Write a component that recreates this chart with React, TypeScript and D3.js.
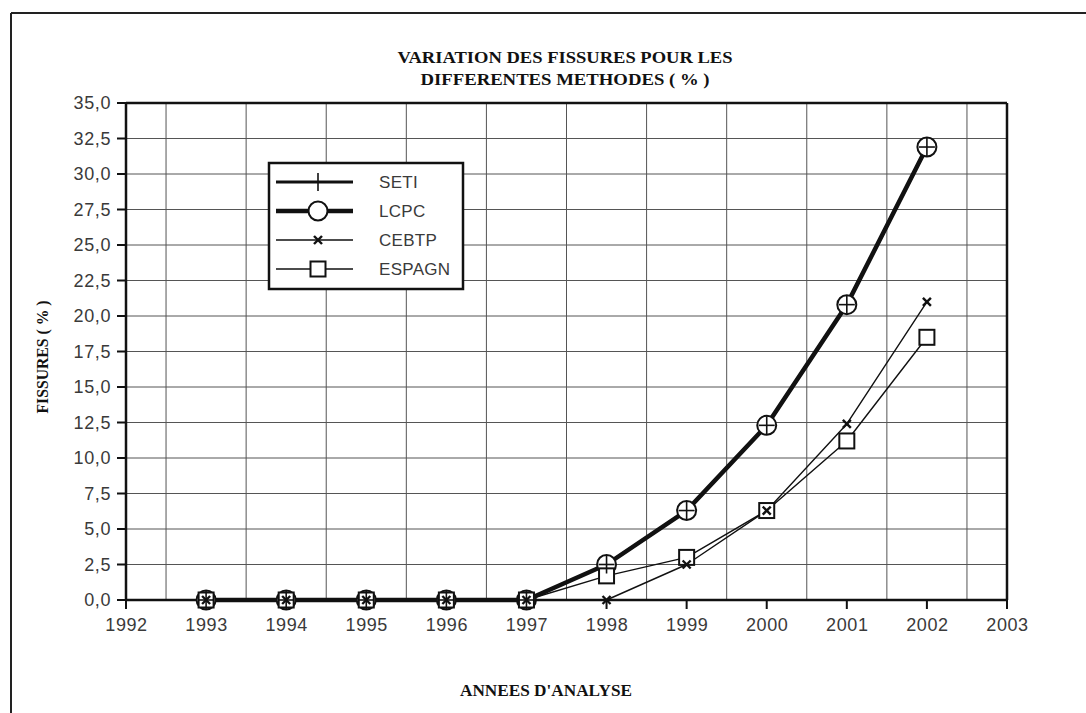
import React from "react";
import * as d3 from "d3";

const years = [1993, 1994, 1995, 1996, 1997, 1998, 1999, 2000, 2001, 2002];
const seti = [0, 0, 0, 0, 0, 2.5, 6.3, 12.3, 20.8, 31.9];
const lcpc = [0, 0, 0, 0, 0, 2.5, 6.3, 12.3, 20.8, 31.9];
const cebtp = [0, 0, 0, 0, 0, 0, 2.5, 6.3, 12.4, 21.0];
const espagn = [0, 0, 0, 0, 0, 1.7, 3.0, 6.3, 11.2, 18.5];
const seriesNames = ["SETI", "LCPC", "CEBTP", "ESPAGN"];
const xTicks = d3.range(1992, 2004);
const yTicks = d3.range(0, 35.01, 2.5);
const titleLines = ["VARIATION DES FISSURES POUR LES", "DIFFERENTES METHODES ( % )"];
const xTitle = "ANNEES D'ANALYSE";
const yTitle = "FISSURES ( % )";

const W = 1086, H = 713;
const L = 126, R = 1007, T = 103, B = 600;

type Kind = "plus" | "circle" | "x" | "square";
const styles: { kind: Kind; width: number }[] = [
  { kind: "plus", width: 3 },
  { kind: "circle", width: 4.5 },
  { kind: "x", width: 1.4 },
  { kind: "square", width: 1.4 },
];

function Marker({ kind, x, y }: { kind: Kind; x: number; y: number }) {
  if (kind === "circle")
    return <circle cx={x} cy={y} r={9.5} fill="#fff" stroke="#111" strokeWidth={2} />;
  if (kind === "square")
    return <rect x={x - 7.5} y={y - 7.5} width={15} height={15} fill="#fff" stroke="#111" strokeWidth={2} />;
  if (kind === "plus")
    return (
      <g stroke="#111" strokeWidth={1.6}>
        <line x1={x - 8} x2={x + 8} y1={y} y2={y} />
        <line x1={x} x2={x} y1={y - 9} y2={y + 9} />
      </g>
    );
  return (
    <g stroke="#111" strokeWidth={2.4}>
      <line x1={x - 4} x2={x + 4} y1={y - 4} y2={y + 4} />
      <line x1={x - 4} x2={x + 4} y1={y + 4} y2={y - 4} />
    </g>
  );
}

export default function App() {
  const x = d3.scaleLinear().domain([1992, 2003]).range([L, R]);
  const y = d3.scaleLinear().domain([0, 35]).range([B, T]);
  const data = [seti, lcpc, cebtp, espagn];
  const line = d3
    .line<number>()
    .x((_, i) => x(years[i]))
    .y((d) => y(d));
  const fmt = (v: number) => v.toFixed(1).replace(".", ",");
  const vGrid = d3.range(1992.5, 2003, 1);
  const markerOrder = [1, 3, 0, 2];
  const sans = "'Liberation Sans', Arial, sans-serif";
  const serif = "'Liberation Serif', 'Times New Roman', serif";
  const legY = [182, 211, 240, 269];
  const titleW = [335, 289];

  return (
    <svg width={W} height={H} style={{ position: "absolute", left: 0, top: 0, background: "#fff" }}>
      <rect x={0} y={0} width={W} height={H} fill="#fff" />
      {/* outer frame */}
      <line x1={11} x2={W} y1={13} y2={13} stroke="#222" strokeWidth={2} />
      <line x1={11} x2={11} y1={13} y2={H} stroke="#222" strokeWidth={2} />

      {/* title */}
      {titleLines.map((t, i) => (
        <text key={i} x={565} y={63 + i * 22} textAnchor="middle" fontFamily={serif} fontWeight="bold" fontSize={17}
          textLength={titleW[i]} lengthAdjust="spacingAndGlyphs" fill="#111">
          {t}
        </text>
      ))}

      {/* grid */}
      {yTicks.filter((v) => v > 0 && v < 35).map((v) => (
        <line key={"h" + v} x1={L} x2={R} y1={y(v)} y2={y(v)} stroke="#555" strokeWidth={1} />
      ))}
      {vGrid.map((v) => (
        <line key={"v" + v} x1={x(v)} x2={x(v)} y1={T} y2={B} stroke="#555" strokeWidth={1} />
      ))}

      {/* plot border */}
      <line x1={L} x2={R} y1={T} y2={T} stroke="#111" strokeWidth={2.5} />
      <line x1={R} x2={R} y1={T} y2={B} stroke="#111" strokeWidth={2.5} />
      <line x1={L} x2={L} y1={T} y2={B} stroke="#111" strokeWidth={2.5} />
      <line x1={L} x2={R} y1={B} y2={B} stroke="#111" strokeWidth={2.5} />

      {/* y ticks */}
      {yTicks.map((v) => (
        <g key={"yt" + v}>
          <line x1={L - 9} x2={L} y1={y(v)} y2={y(v)} stroke="#111" strokeWidth={2} />
          <text x={111} y={y(v)} dy="0.36em" textAnchor="end" fontFamily={sans} fontSize={18} letterSpacing={0.6} fill="#3a3a3a">
            {fmt(v)}
          </text>
        </g>
      ))}
      {/* x ticks */}
      {xTicks.map((v) => (
        <g key={"xt" + v}>
          <line x1={x(v)} x2={x(v)} y1={B} y2={B + 9} stroke="#111" strokeWidth={2} />
          <text x={x(v) + 0.5} y={631} textAnchor="middle" fontFamily={sans} fontSize={18} letterSpacing={0.6} fill="#3a3a3a">
            {v}
          </text>
        </g>
      ))}

      {/* axis titles */}
      <text x={546} y={696} textAnchor="middle" fontFamily={serif} fontWeight="bold" fontSize={16}
        textLength={172} lengthAdjust="spacingAndGlyphs" fill="#111">
        {xTitle}
      </text>
      <text transform={`translate(48,357) rotate(-90)`} textAnchor="middle" fontFamily={serif} fontWeight="bold" fontSize={16}
        textLength={113} lengthAdjust="spacingAndGlyphs" fill="#111">
        {yTitle}
      </text>

      {/* series lines */}
      {data.map((d, i) => (
        <path key={"l" + i} d={line(d) || ""} fill="none" stroke="#111" strokeWidth={styles[i].width} strokeLinejoin="round" />
      ))}
      {/* markers */}
      {markerOrder.map((si) =>
        data[si].map((v, j) => <Marker key={si + "-" + j} kind={styles[si].kind} x={x(years[j])} y={y(v)} />)
      )}

      {/* legend */}
      <rect x={269} y={163} width={194} height={126} fill="#fff" stroke="#111" strokeWidth={2.5} />
      {seriesNames.map((n, i) => (
        <g key={"lg" + n}>
          <line x1={276} x2={353} y1={legY[i]} y2={legY[i]} stroke="#111" strokeWidth={styles[i].width} />
          <Marker kind={styles[i].kind} x={318} y={legY[i]} />
          <text x={379} y={legY[i]} dy="0.36em" fontFamily={sans} fontSize={17} letterSpacing={0.3} fill="#3a3a3a">
            {n}
          </text>
        </g>
      ))}
    </svg>
  );
}
